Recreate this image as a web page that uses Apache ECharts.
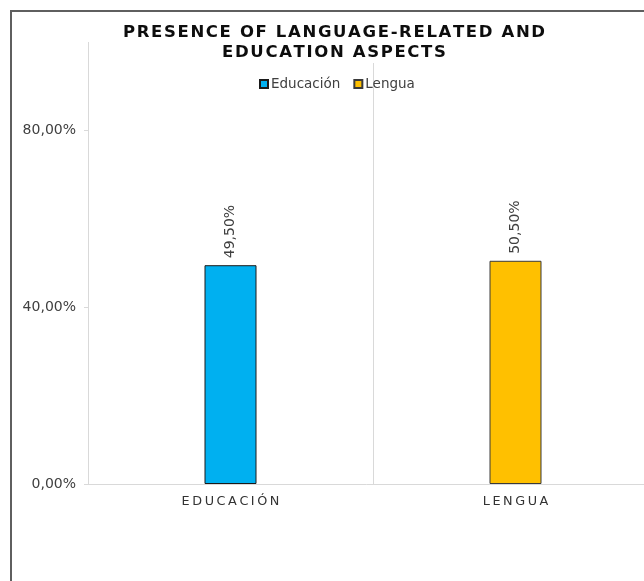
<!DOCTYPE html>
<html>
<head>
<meta charset="utf-8">
<script src="https://cdn.jsdelivr.net/npm/echarts@6/dist/echarts.min.js"></script>
<style>
  html, body { margin: 0; padding: 0; background: #ffffff; }
  #chart { width: 644px; height: 581px; }
</style>
</head>
<body>
<div id="chart"></div>
<script>
// Categories, series and axis ticks
const categories = ['EDUCACIÓN', 'LENGUA'];
const seriesNames = ['Educación', 'Lengua'];
const educacionValues = [49.5, null];
const lenguaValues = [null, 50.5];
const yTicks = [0, 40, 80];
const titleLines = ['PRESENCE OF LANGUAGE-RELATED AND', 'EDUCATION ASPECTS'];

// Widen tracking by putting narrow spaces between the letters
function track(s, sep) {
  return Array.from(s).join(sep || '\u2009');
}
function pct(v) {
  return v.toFixed(2).replace('.', ',') + '%';
}

const chart = echarts.init(document.getElementById('chart'), null, { renderer: 'canvas' });

const barLabel = {
  show: true,
  position: 'top',
  rotate: 90,
  align: 'left',
  verticalAlign: 'middle',
  distance: 7,
  color: '#404040',
  fontFamily: 'DejaVu Sans',
  fontSize: 14,
  formatter: p => pct(p.value)
};

chart.setOption({
  animation: false,
  backgroundColor: '#ffffff',
  graphic: [
    {
      type: 'rect',
      shape: { x: 11, y: 11, width: 800, height: 800 },
      style: { fill: 'none', stroke: '#5f5f5f', lineWidth: 2 },
      z: 100
    },
    {
      type: 'text',
      x: 334,
      y: 23,
      z: 50,
      style: {
        text: titleLines.map(t => track(t, '\u200A')).join('\n'),
        textAlign: 'center',
        fontFamily: 'DejaVu Sans',
        fontWeight: 'bold',
        fontSize: 16.5,
        lineHeight: 20,
        fill: '#0d0d0d',
        backgroundColor: '#ffffff',
        padding: [0, 2, 0, 2]
      }
    }
  ],
  legend: {
    data: seriesNames,
    left: 254,
    top: 72,
    itemWidth: 8,
    itemHeight: 8,
    itemGap: 13,
    icon: 'rect',
    textStyle: { fontFamily: 'DejaVu Sans', fontSize: 13.5, color: '#404040', padding: [0, 0, 0, -2] }
  },
  grid: { left: 88, top: 42, width: 570, height: 442, containLabel: false, outerBoundsMode: 'none' },
  xAxis: {
    type: 'category',
    data: categories,
    axisLine: { show: true, lineStyle: { color: '#d9d9d9', width: 1 } },
    axisTick: { show: false },
    axisLabel: {
      margin: 11,
      color: '#333333',
      fontFamily: 'DejaVu Sans',
      fontSize: 12.8,
      formatter: v => track(v)
    },
    splitLine: { show: true, interval: 0, lineStyle: { color: '#d9d9d9', width: 1 } }
  },
  yAxis: {
    type: 'value',
    min: 0,
    max: 100,
    interval: 40,
    axisLine: { show: false },
    axisTick: { show: true, length: 4, customValues: yTicks, lineStyle: { color: '#d9d9d9' } },
    axisLabel: {
      customValues: yTicks,
      margin: 12,
      color: '#404040',
      fontFamily: 'DejaVu Sans',
      fontSize: 14,
      formatter: v => pct(v)
    },
    splitLine: { show: false }
  },
  series: [
    {
      name: seriesNames[0],
      type: 'bar',
      stack: 'one',
      data: educacionValues,
      barWidth: 52,
      itemStyle: { color: '#00B0F0', borderColor: '#1a1a1a', borderWidth: 1 },
      label: barLabel
    },
    {
      name: seriesNames[1],
      type: 'bar',
      stack: 'one',
      data: lenguaValues,
      barWidth: 52,
      itemStyle: { color: '#FFC000', borderColor: '#3a3a3a', borderWidth: 1 },
      label: barLabel
    }
  ]
});
</script>
</body>
</html>
